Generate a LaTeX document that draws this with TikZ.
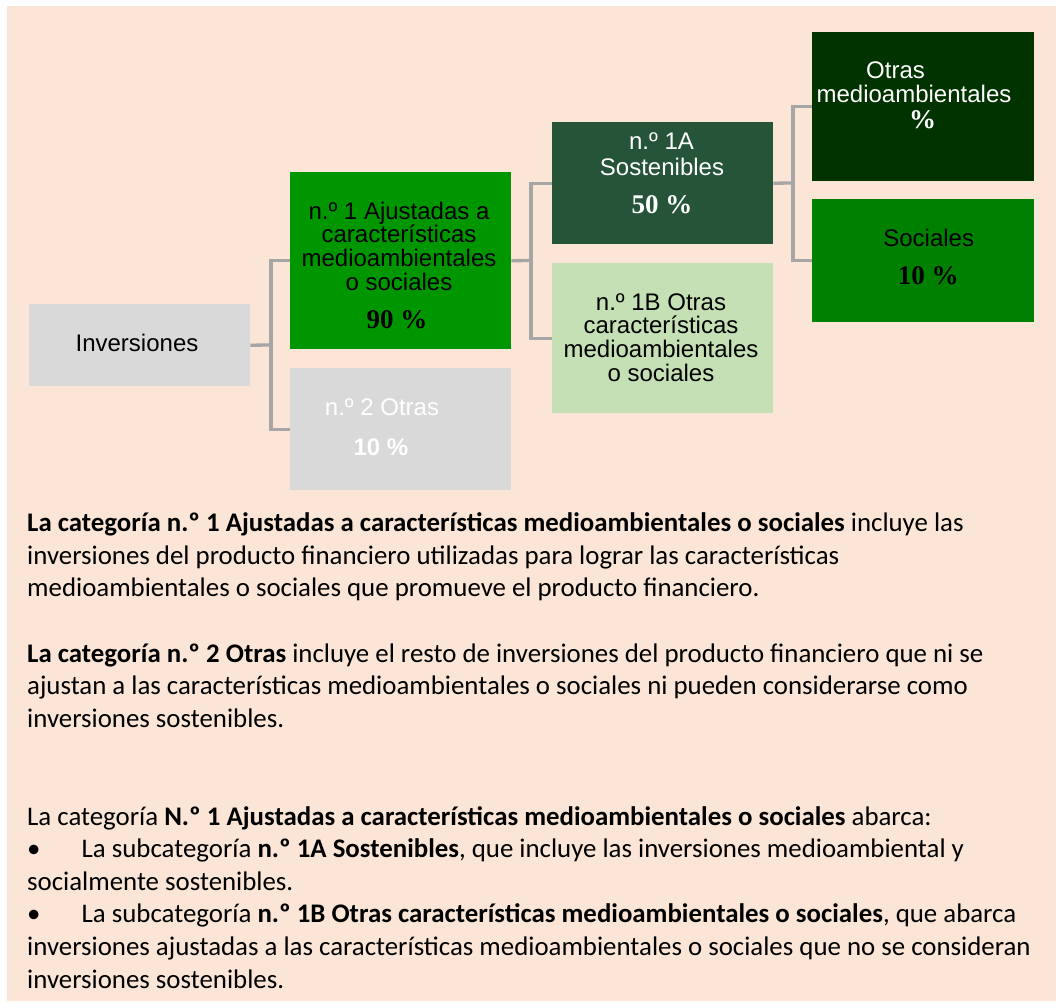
\documentclass[tikz,border=0pt]{standalone}
\usepackage{fontspec}
\setmainfont{Carlito}
\newfontfamily\boxfont{Liberation Sans}
\newfontfamily\pctfont{Liberation Serif}
\definecolor{beige}{HTML}{FBE5D6}
\definecolor{grayb}{HTML}{D9D9D9}
\definecolor{greenA}{HTML}{009600}
\definecolor{green1A}{HTML}{265438}
\definecolor{green1B}{HTML}{C5E0B4}
\definecolor{greenOt}{HTML}{003300}
\definecolor{greenSo}{HTML}{008000}
\definecolor{connc}{HTML}{A6A6A6}
\begin{document}
\begin{tikzpicture}[x=1pt,y=-1pt,
  box/.style={rectangle, draw=none, inner sep=0, anchor=north west},
  lbl/.style={inner sep=0, anchor=base, font=\boxfont\fontsize{24}{24}\selectfont},
  pct/.style={inner sep=0, anchor=base, font=\pctfont\bfseries\fontsize{27}{27}\selectfont},
  pcts/.style={inner sep=0, anchor=base, font=\boxfont\bfseries\fontsize{24}{24}\selectfont},
  body/.style={inner sep=0, anchor=base west, font=\fontsize{26.85}{32.6}\selectfont},
  conn/.style={draw=connc, line width=3.3pt}]
\useasboundingbox (0,0) rectangle (1059,1002);
\fill[white] (0,0) rectangle (1059,1002);
\fill[beige] (7,6) rectangle (1056,1001);

% boxes
\node[box, fill=grayb, minimum width=221, minimum height=82] (inv) at (29,304) {};
\node[box, fill=greenA, minimum width=221, minimum height=177] (n1) at (290,172) {};
\node[box, fill=grayb, minimum width=221, minimum height=122] (n2) at (290,368) {};
\node[box, fill=green1A, minimum width=221, minimum height=122] (s1a) at (552,122) {};
\node[box, fill=green1B, minimum width=221, minimum height=150] (s1b) at (552,263) {};
\node[box, fill=greenOt, minimum width=222, minimum height=149] (ot) at (812,32) {};
\node[box, fill=greenSo, minimum width=222, minimum height=123] (so) at (812,199) {};

% connectors
\coordinate (j1) at (271,345);
\coordinate (j2) at (531,260.5);
\coordinate (j3) at (793,183);
\draw[conn] (inv.east) -- (j1);
\draw[conn] (n1.west) -| (j1);
\draw[conn] (n2.west) -| (j1);
\draw[conn] (n1.east) -- (j2);
\draw[conn] (s1a.west) -| (j2);
\draw[conn] (s1b.west) -| (j2);
\draw[conn] (s1a.east) -- (j3);
\draw[conn] (ot.west) -| (j3);
\draw[conn] (so.west) -| (j3);

% box texts
\node[lbl] (tinv) at (137,351) {Inversiones};
\node[lbl] (tn1a) at (399,219) {n.º 1 Ajustadas a};
\node[lbl] (tn1b) at (399,242.7) {características};
\node[lbl] (tn1c) at (399,266.5) {medioambientales};
\node[lbl] (tn1d) at (399,290.3) {o sociales};
\node[pct] (pn1) at (397,328.3) {90 \%};
\node[lbl, text=white] (tn2) at (382,415) {n.º 2 Otras};
\node[pcts, text=white] (pn2) at (381,455) {10 \%};
\node[lbl, text=white] (ta1) at (661.5,149) {n.º 1A};
\node[lbl, text=white] (ta2) at (662,175.7) {Sostenibles};
\node[pct, text=white] (pa) at (662,213.3) {50 \%};
\node[lbl] (tb1) at (661,310) {n.º 1B Otras};
\node[lbl] (tb2) at (661,333.5) {características};
\node[lbl] (tb3) at (661,357.3) {medioambientales};
\node[lbl] (tb4) at (661,381) {o sociales};
\node[lbl, text=white] (to1) at (895.5,78.7) {Otras};
\node[lbl, text=white] (to2) at (914,102.7) {medioambientales};
\node[pct, text=white] (po) at (922.5,128.3) {\%};
\node[lbl] (ts1) at (928.7,246) {Sociales};
\node[pct] (ps) at (928.2,284.3) {10 \%};

% body text
\node[body] (l1) at (27,531.7) {\textbf{La categoría n.º 1 Ajustadas a características medioambientales o sociales} incluye las};
\node[body] (l2) at (27,564.3) {inversiones del producto financiero utilizadas para lograr las características};
\node[body] (l3) at (27,596.9) {medioambientales o sociales que promueve el producto financiero.};
\node[body] (l4) at (27,662.1) {\textbf{La categoría n.º 2 Otras} incluye el resto de inversiones del producto financiero que ni se};
\node[body] (l5) at (27,694.7) {ajustan a las características medioambientales o sociales ni pueden considerarse como};
\node[body] (l6) at (27,727.3) {inversiones sostenibles.};
\node[body] (l7) at (27,825.1) {La categoría \textbf{N.º 1 Ajustadas a características medioambientales o sociales} abarca:};
\node[body] (l8) at (27,857.7) {\makebox[54.5pt][l]{•}La subcategoría \textbf{n.º 1A Sostenibles}, que incluye las inversiones medioambiental y};
\node[body] (l9) at (27,890.3) {socialmente sostenibles.};
\node[body] (l10) at (27,922.9) {\makebox[54.5pt][l]{•}La subcategoría \textbf{n.º 1B Otras características medioambientales o sociales}, que abarca};
\node[body] (l11) at (27,955.5) {inversiones ajustadas a las características medioambientales o sociales que no se consideran};
\node[body] (l12) at (27,988.1) {inversiones sostenibles.};
\end{tikzpicture}
\end{document}
